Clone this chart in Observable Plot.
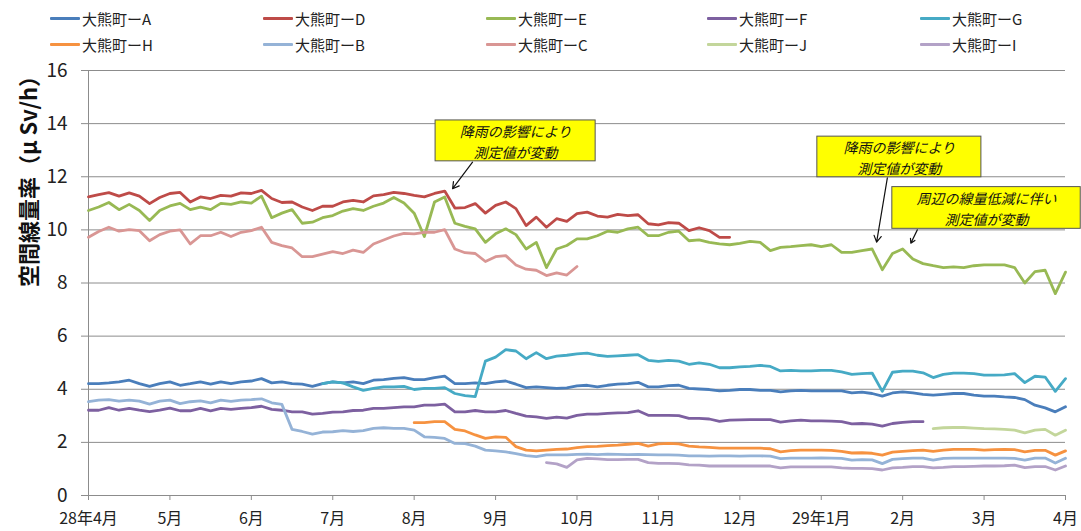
<!DOCTYPE html>
<html>
<head>
<meta charset="utf-8">
<script src="https://cdn.jsdelivr.net/npm/d3@7"></script>
<script src="https://cdn.jsdelivr.net/npm/@observablehq/plot@0.6"></script>
<style>
  body { margin: 0; background: #fff; font-family: "Noto Sans CJK JP", "Noto Sans", sans-serif; }
  #wrap { width: 1081px; height: 531px; position: relative; overflow: hidden; }
  #legend { height: 55px; box-sizing: border-box; padding: 5px 0 0 50px; display: grid;
            grid-template-columns: 213px 223px 221px 213px 160px; grid-auto-rows: 26px;
            font-size: 15px; color: #222; }
  .item { display: flex; align-items: center; white-space: nowrap; }
  .sw { display: inline-block; width: 30px; height: 3px; margin-right: 2px; border-radius: 1px; }
  svg { display: block; }
</style>
</head>
<body>
<div id="wrap">
  <div id="legend"></div>
  <div id="chart"></div>
</div>
<script>
// ---- labels ----
const xLabels = ["28年4月","5月","6月","7月","8月","9月","10月","11月","12月","29年1月","2月","3月","4月"];
const yTicks = [0, 2, 4, 6, 8, 10, 12, 14, 16];
const yLabel = "空間線量率（μ Sv/h）";

// series in legend order
const seriesNames  = ["大熊町ーA","大熊町ーD","大熊町ーE","大熊町ーF","大熊町ーG","大熊町ーH","大熊町ーB","大熊町ーC","大熊町ーJ","大熊町ーI"];
const seriesColors = ["#4A7EBB","#BE4B48","#98B954","#7D60A0","#46AAC5","#F69240","#95B3D7","#D99694","#C3D69B","#B3A2C7"];

// readings sampled every 1/8 month from 28年4月 (sample index 0 = 4月1日)
const samplesPerMonth = 8;

const startA = 0;
const valuesA = [4.21,4.21,4.24,4.28,4.34,4.21,4.11,4.21,4.28,4.15,4.21,4.28,4.19,4.28,4.21,4.28,4.31,4.40,4.24,4.28,4.21,4.19,4.11,4.21,4.28,4.24,4.28,4.21,4.34,4.36,4.41,4.44,4.36,4.36,4.44,4.49,4.21,4.21,4.24,4.21,4.28,4.31,4.19,4.06,4.09,4.06,4.03,4.05,4.13,
  4.15,4.09,4.15,4.19,4.21,4.26,4.09,4.09,4.14,4.15,4.03,4.01,3.99,3.94,3.96,3.99,3.99,3.96,3.96,3.90,3.94,3.96,3.94,3.94,3.94,3.94,3.86,3.89,3.84,3.74,3.86,3.90,3.86,3.81,3.78,3.81,3.84,3.84,3.78,3.74,3.74,3.71,3.69,3.61,3.40,3.30,3.15,3.34];

const startD = 0;
const valuesD = [11.24,11.33,11.40,11.27,11.39,11.27,10.99,11.22,11.37,11.41,11.05,11.24,11.18,11.30,11.27,11.39,11.37,11.49,11.18,11.03,11.05,10.86,10.73,10.89,10.89,11.05,11.11,11.05,11.28,11.33,11.41,11.37,11.30,11.24,11.37,11.46,10.82,10.84,10.99,10.63,10.92,11.05,10.80,10.16,10.48,10.10,10.42,10.32,10.61,
  10.67,10.52,10.48,10.58,10.54,10.57,10.23,10.19,10.27,10.25,9.97,10.08,9.97,9.72,9.72];

const startE = 0;
const valuesE = [10.73,10.86,11.03,10.76,10.96,10.73,10.35,10.73,10.90,11.00,10.76,10.86,10.76,11.00,10.96,11.05,11.01,11.27,10.46,10.63,10.76,10.25,10.29,10.46,10.54,10.71,10.80,10.73,10.89,11.01,11.22,11.01,10.63,9.75,11.05,11.24,10.25,10.13,10.04,9.53,9.85,10.04,9.82,9.28,9.53,8.58,9.28,9.41,9.66,
  9.66,9.78,9.95,9.91,10.04,10.10,9.78,9.78,9.91,9.95,9.59,9.62,9.53,9.47,9.44,9.49,9.57,9.53,9.22,9.34,9.37,9.41,9.44,9.37,9.44,9.15,9.15,9.22,9.28,8.50,9.11,9.28,8.90,8.73,8.65,8.58,8.61,8.58,8.65,8.68,8.68,8.68,8.58,8.00,8.43,8.48,7.60,8.41];

const startF = 0;
const valuesF = [3.21,3.21,3.31,3.21,3.28,3.21,3.16,3.21,3.29,3.19,3.19,3.28,3.19,3.28,3.24,3.28,3.31,3.36,3.24,3.21,3.15,3.15,3.06,3.09,3.14,3.15,3.20,3.21,3.28,3.28,3.31,3.34,3.34,3.40,3.40,3.44,3.15,3.15,3.20,3.15,3.15,3.20,3.09,2.99,2.96,2.90,2.95,2.91,3.02,
  3.06,3.06,3.09,3.11,3.12,3.19,3.02,3.02,3.02,3.01,2.90,2.90,2.88,2.79,2.84,2.85,2.86,2.86,2.86,2.76,2.81,2.84,2.81,2.81,2.80,2.78,2.70,2.71,2.69,2.61,2.71,2.75,2.78,2.78];

const startG = 23;
const valuesG = [4.21,4.28,4.24,4.09,3.96,4.03,4.09,4.09,4.11,3.99,4.03,4.03,4.06,3.84,3.76,3.72,5.06,5.21,5.49,5.44,5.15,5.38,5.15,5.25,5.28,5.33,
  5.36,5.28,5.24,5.26,5.28,5.30,5.09,5.05,5.09,5.06,4.94,4.99,4.94,4.81,4.81,4.84,4.86,4.90,4.86,4.69,4.71,4.69,4.69,4.71,4.71,4.65,4.56,4.59,4.61,3.92,4.64,4.68,4.68,4.62,4.44,4.56,4.61,4.61,4.59,4.53,4.53,4.54,4.59,4.25,4.49,4.46,3.92,4.40];

const startH = 32;
const valuesH = [2.74,2.74,2.78,2.78,2.49,2.43,2.28,2.15,2.21,2.19,1.84,1.71,1.68,1.71,1.74,1.75,1.80,
  1.84,1.85,1.88,1.90,1.93,1.96,1.86,1.94,1.96,1.94,1.86,1.83,1.81,1.78,1.78,1.78,1.78,1.78,1.76,1.64,1.69,1.71,1.71,1.71,1.70,1.66,1.60,1.61,1.59,1.52,1.63,1.66,1.69,1.71,1.66,1.71,1.74,1.74,1.74,1.71,1.73,1.74,1.73,1.64,1.70,1.70,1.52,1.68];

const startB = 0;
const valuesB = [3.53,3.59,3.61,3.55,3.59,3.55,3.44,3.55,3.59,3.46,3.53,3.56,3.49,3.59,3.54,3.59,3.61,3.64,3.49,3.43,2.49,2.41,2.31,2.39,2.40,2.44,2.41,2.44,2.53,2.55,2.53,2.53,2.46,2.21,2.19,2.15,1.96,1.95,1.86,1.71,1.68,1.64,1.58,1.50,1.46,1.53,1.53,1.53,1.55,
  1.56,1.54,1.56,1.55,1.54,1.55,1.54,1.53,1.53,1.52,1.49,1.49,1.48,1.49,1.49,1.48,1.49,1.49,1.48,1.39,1.41,1.41,1.41,1.42,1.41,1.40,1.33,1.35,1.34,1.20,1.36,1.39,1.41,1.41,1.33,1.40,1.41,1.41,1.41,1.41,1.41,1.41,1.40,1.33,1.41,1.41,1.22,1.40];

const startC = 0;
const valuesC = [9.72,9.94,10.10,9.95,10.01,9.97,9.59,9.82,9.95,10.00,9.47,9.78,9.78,9.91,9.75,9.91,9.97,10.10,9.53,9.41,9.32,8.99,8.99,9.09,9.18,9.11,9.24,9.15,9.47,9.62,9.77,9.87,9.85,9.91,9.91,10.01,9.28,9.14,9.11,8.81,8.99,9.03,8.68,8.52,8.48,8.28,8.38,8.30,8.62];

const startJ = 83;
const valuesJ = [2.52,2.55,2.56,2.56,2.54,2.52,2.51,2.49,2.46,2.36,2.46,2.49,2.27,2.46];

const startI = 45;
const valuesI = [1.24,1.19,1.06,1.34,
  1.40,1.38,1.35,1.35,1.36,1.36,1.24,1.21,1.21,1.20,1.15,1.14,1.11,1.11,1.11,1.11,1.11,1.11,1.11,1.04,1.08,1.08,1.08,1.08,1.08,1.04,1.02,1.02,1.01,0.96,1.04,1.06,1.09,1.09,1.04,1.06,1.09,1.09,1.10,1.11,1.11,1.12,1.14,1.05,1.09,1.09,0.96,1.11];

// annotation callouts (box extents and arrow ends in data units)
const annotations = [
  {text: "降雨の影響により\n測定値が変動", bx1: 4.263, bx2: 6.229, by1: 12.58, by2: 14.12, ax1: 4.717, ay1: 12.55, ax2: 4.472, ay2: 11.55},
  {text: "降雨の影響により\n測定値が変動", bx1: 8.952, bx2: 10.967, by1: 11.98, by2: 13.51, ax1: 9.812, ay1: 11.96, ax2: 9.68, ay2: 9.54},
  {text: "周辺の線量低減に伴い\n測定値が変動", bx1: 9.873, bx2: 12.187, by1: 10.04, by2: 11.61, ax1: 10.18, ay1: 10.0, ax2: 10.1, ay2: 9.5}
];

// ---- build table ----
const seriesData = [
  [startA, valuesA], [startD, valuesD], [startE, valuesE], [startF, valuesF], [startG, valuesG],
  [startH, valuesH], [startB, valuesB], [startC, valuesC], [startJ, valuesJ], [startI, valuesI]
];
const rows = [];
seriesData.forEach(([start, vals], k) => {
  vals.forEach((v, j) => rows.push({series: seriesNames[k], t: (start + j) / samplesPerMonth, v}));
});

// ---- legend ----
const legend = document.getElementById("legend");
seriesNames.forEach((name, k) => {
  const it = document.createElement("div");
  it.className = "item";
  it.innerHTML = `<span class="sw" style="background:${seriesColors[k]}"></span><span>${name}</span>`;
  legend.appendChild(it);
});

// ---- chart ----
const monthTicks = d3.range(xLabels.length);
const chart = Plot.plot({
  width: 1081,
  height: 476,
  marginLeft: 88,
  marginRight: 16,
  marginTop: 15,
  marginBottom: 36,
  style: {fontFamily: '"Noto Sans CJK JP", sans-serif', background: "#fff"},
  x: {type: "linear", domain: [0, 12]},
  y: {domain: [0, 16]},
  color: {domain: seriesNames, range: seriesColors},
  marks: [
    Plot.gridY(yTicks, {stroke: "#8c8c8c", strokeOpacity: 1, strokeWidth: 1}),
    Plot.ruleX([0], {stroke: "#8c8c8c"}),
    Plot.ruleY([0], {stroke: "#8c8c8c"}),
    Plot.axisY(yTicks, {tickSize: 7, tickPadding: 14, fontSize: 19, stroke: "#8c8c8c", fill: "#222", label: null}),
    Plot.axisX(monthTicks, {tickSize: 5, tickPadding: 12, fontSize: 16, stroke: "#8c8c8c", fill: "#222",
      tickFormat: i => xLabels[i], label: null}),
    Plot.line(rows, {x: "t", y: "v", z: "series", stroke: "series", strokeWidth: 2.8, strokeLinejoin: "round", strokeLinecap: "round"}),
    Plot.text([yLabel], {frameAnchor: "left", dx: -59, dy: 4, rotate: -90, fontSize: 22, fontWeight: "bold", fill: "#111"}),
    Plot.arrow(annotations, {x1: "ax1", y1: "ay1", x2: "ax2", y2: "ay2", stroke: "#111", strokeWidth: 1.2, headLength: 9}),
    Plot.rect(annotations, {x1: "bx1", x2: "bx2", y1: "by1", y2: "by2", fill: "#FFFF00", stroke: "#555", strokeWidth: 1}),
    Plot.text(annotations, {x: d => (d.bx1 + d.bx2) / 2, y: d => (d.by1 + d.by2) / 2, text: "text",
      fontSize: 14, fontStyle: "italic", lineHeight: 1.46, fill: "#111"})
  ]
});
document.getElementById("chart").appendChild(chart);
</script>
</body>
</html>
